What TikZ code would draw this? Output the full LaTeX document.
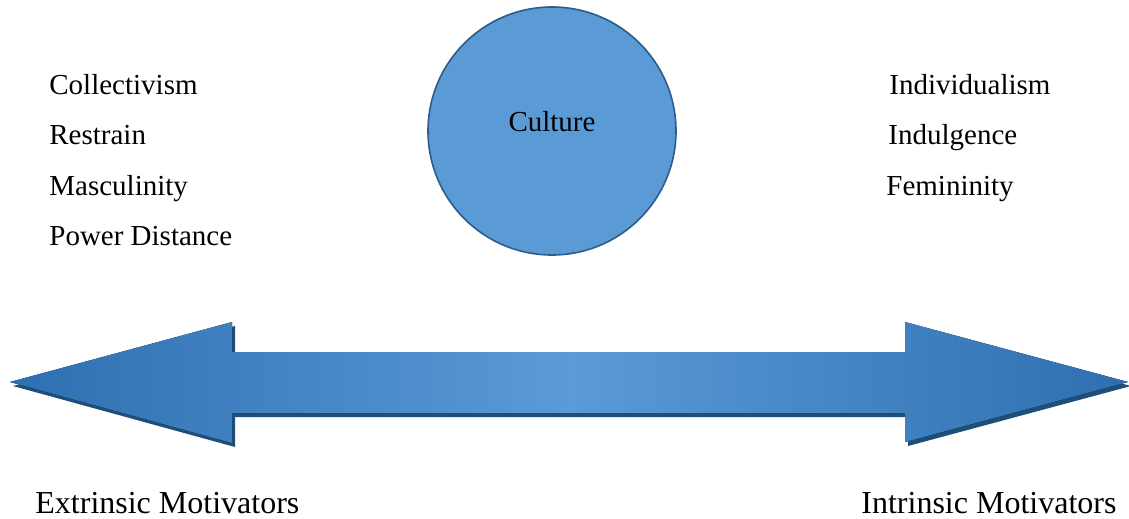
\documentclass[tikz,border=0pt]{standalone}
\usepackage{fontspec}
\setmainfont{Liberation Serif}
\usetikzlibrary{positioning}
\definecolor{cultfill}{HTML}{5B9BD5}
\definecolor{cultline}{HTML}{2C5C8C}
\definecolor{arrowend}{HTML}{2E6FB1}
\definecolor{arrowmid}{HTML}{5A9AD6}
\definecolor{arrowdark}{HTML}{1F4E79}
\tikzset{
  dimlabel/.style={anchor=base west,inner sep=0pt,font=\fontsize{14.5}{17}\selectfont},
  polelabel/.style={anchor=base west,inner sep=0pt,font=\fontsize{16}{19}\selectfont},
  cultcircle/.style={circle,fill=cultfill,draw=cultline,line width=0.8pt,minimum size=124pt,inner sep=0pt},
  arrowbody/.style={left color=arrowend,right color=arrowend,middle color=arrowmid},
  arrowshadow/.style={fill=arrowdark},
}
% double-headed arrow outline, in pixels of the reference
\newcommand{\motivarrow}{(10,382) -- (232,322) -- (232,352) -- (905,352) -- (905,322)
  -- (1128,382) -- (905,442) -- (905,413) -- (232,413) -- (232,443) -- cycle}

\begin{document}
\begin{tikzpicture}[x=0.5pt,y=-0.5pt]
  \useasboundingbox (0,0) rectangle (1129,519);

  % the arrow with its shadow
  \fill[arrowshadow,shift={(3,4)}] \motivarrow;
  \fill[arrowbody] \motivarrow;

  % culture circle
  \node[cultcircle] (culture) at (552,131) {};
  \node[anchor=base,inner sep=0pt,font=\fontsize{14.5}{17}\selectfont] (culturetext) at (552,132) {Culture};

  % dimensions on the left
  \foreach \i/\lab in {0/Collectivism,1/Restrain,2/Masculinity,3/Power Distance}{
    \node[dimlabel] (left\i) at (49,95+50*\i) {\lab};
  }
  % dimensions on the right
  \node[dimlabel] (right0) at (889,95) {Individualism};
  \node[dimlabel] (right1) at (888,145) {Indulgence};
  \node[dimlabel] (right2) at (886,195) {Femininity};

  % the two poles
  \node[polelabel] (extrinsic) at (35,513) {Extrinsic Motivators};
  \node[polelabel] (intrinsic) at (861,513) {Intrinsic Motivators};
\end{tikzpicture}
\end{document}
